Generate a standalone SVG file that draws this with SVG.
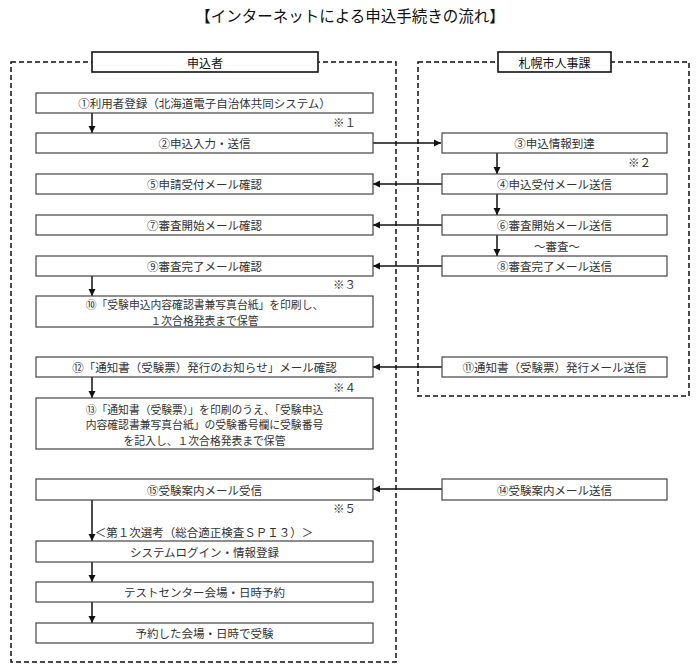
<svg xmlns="http://www.w3.org/2000/svg" width="700" height="672" viewBox="0 0 700 672">
<style>
text{font-family:"Noto Sans CJK JP","Noto Sans",sans-serif;fill:#333;dominant-baseline:central;text-anchor:middle}
.t{font-size:11.5px}
.m{font-size:10.8px}
.h{font-size:12px;fill:#111}
.title{font-size:15.5px;fill:#111}
.note{font-size:11.5px;text-anchor:start}
.box{fill:#fff;stroke:#444;stroke-width:1.2}
.hbox{fill:#fff;stroke:#111;stroke-width:1.6}
.dash{fill:none;stroke:#111;stroke-width:1.5;stroke-dasharray:5 3}
.ln{stroke:#111;stroke-width:1.5;fill:none}
</style>
<defs>
<marker id="ah" markerUnits="userSpaceOnUse" markerWidth="8" markerHeight="8" refX="7" refY="4" orient="auto">
<path d="M0,0.5 L7,4 L0,7.5 z" fill="#111"/>
</marker>
</defs>
<rect width="700" height="672" fill="#fff"/>
<text class="title" x="350" y="15">【インターネットによる申込手続きの流れ】</text>

<g id="lane-applicant">
<rect class="dash" x="11" y="62" width="385" height="600"/>
</g>
<g id="lane-sapporo">
<rect class="dash" x="418" y="62" width="271" height="334"/>
</g>

<g id="connectors">
<line class="ln" x1="92" y1="113" x2="92" y2="133" marker-end="url(#ah)"/>
<line class="ln" x1="373" y1="143" x2="441" y2="143" marker-end="url(#ah)"/>
<line class="ln" x1="497" y1="153" x2="497" y2="174" marker-end="url(#ah)"/>
<line class="ln" x1="442" y1="184" x2="373" y2="184" marker-end="url(#ah)"/>
<line class="ln" x1="497" y1="194" x2="497" y2="215" marker-end="url(#ah)"/>
<line class="ln" x1="442" y1="225" x2="373" y2="225" marker-end="url(#ah)"/>
<line class="ln" x1="497" y1="235" x2="497" y2="256" marker-end="url(#ah)"/>
<line class="ln" x1="442" y1="266" x2="373" y2="266" marker-end="url(#ah)"/>
<line class="ln" x1="92" y1="276" x2="92" y2="296" marker-end="url(#ah)"/>
<line class="ln" x1="442" y1="367" x2="373" y2="367" marker-end="url(#ah)"/>
<line class="ln" x1="92" y1="377" x2="92" y2="398" marker-end="url(#ah)"/>
<line class="ln" x1="442" y1="489" x2="373" y2="489" marker-end="url(#ah)"/>
<line class="ln" x1="92" y1="500" x2="92" y2="541" marker-end="url(#ah)"/>
<line class="ln" x1="92" y1="562" x2="92" y2="582" marker-end="url(#ah)"/>
<line class="ln" x1="92" y1="602" x2="92" y2="623" marker-end="url(#ah)"/>
</g>

<g id="header-applicant">
<rect class="hbox" x="92" y="52" width="226" height="20"/>
<text class="h" x="205" y="62">申込者</text>
</g>
<g id="header-sapporo">
<rect class="hbox" x="498" y="52" width="113" height="20"/>
<text class="h" x="554.5" y="62">札幌市人事課</text>
</g>

<g id="n1"><rect class="box" x="36" y="93" width="337" height="20"/><text class="t" x="204.5" y="103">①利用者登録（北海道電子自治体共同システム）</text></g>
<text class="note" x="333" y="122">※１</text>
<g id="n2"><rect class="box" x="36" y="133" width="337" height="20"/><text class="t" x="204.5" y="143">②申込入力・送信</text></g>
<g id="n3"><rect class="box" x="442" y="133" width="225" height="20"/><text class="t" x="554.5" y="143">③申込情報到達</text></g>
<text class="note" x="628" y="162">※２</text>
<g id="n4"><rect class="box" x="442" y="174" width="225" height="20"/><text class="t" x="554.5" y="184">④申込受付メール送信</text></g>
<g id="n5"><rect class="box" x="36" y="174" width="337" height="20"/><text class="t" x="204.5" y="184">⑤申請受付メール確認</text></g>
<g id="n6"><rect class="box" x="442" y="215" width="225" height="20"/><text class="t" x="554.5" y="225">⑥審査開始メール送信</text></g>
<g id="n7"><rect class="box" x="36" y="215" width="337" height="20"/><text class="t" x="204.5" y="225">⑦審査開始メール確認</text></g>
<text class="t" x="557" y="246">～審査～</text>
<g id="n8"><rect class="box" x="442" y="256" width="225" height="20"/><text class="t" x="554.5" y="266">⑧審査完了メール送信</text></g>
<g id="n9"><rect class="box" x="36" y="256" width="337" height="20"/><text class="t" x="204.5" y="266">⑨審査完了メール確認</text></g>
<text class="note" x="333" y="284">※３</text>
<g id="n10"><rect class="box" x="36" y="296" width="337" height="31"/><text class="m" x="204.5" y="304">⑩「受験申込内容確認書兼写真台紙」を印刷し、</text><text class="m" x="204.5" y="319.5">１次合格発表まで保管</text></g>
<g id="n11"><rect class="box" x="442" y="357" width="225" height="20"/><text class="t" x="554.5" y="367">⑪通知書（受験票）発行メール送信</text></g>
<g id="n12"><rect class="box" x="36" y="357" width="337" height="20"/><text class="t" x="204.5" y="367">⑫「通知書（受験票）発行のお知らせ」メール確認</text></g>
<text class="note" x="333" y="387">※４</text>
<g id="n13"><rect class="box" x="36" y="398" width="337" height="51"/><text class="m" x="204.5" y="408.5">⑬「通知書（受験票）」を印刷のうえ、「受験申込</text><text class="m" x="204.5" y="424">内容確認書兼写真台紙」の受験番号欄に受験番号</text><text class="m" x="204.5" y="439.5">を記入し、１次合格発表まで保管</text></g>
<g id="n14"><rect class="box" x="442" y="479" width="225" height="21"/><text class="t" x="554.5" y="489.5">⑭受験案内メール送信</text></g>
<g id="n15"><rect class="box" x="36" y="479" width="337" height="21"/><text class="t" x="204.5" y="489.5">⑮受験案内メール受信</text></g>
<text class="note" x="333" y="508">※５</text>
<text class="t" x="204" y="532">＜第１次選考（総合適正検査ＳＰＩ３）＞</text>
<g id="n16"><rect class="box" x="36" y="541" width="337" height="21"/><text class="t" x="204.5" y="551.5">システムログイン・情報登録</text></g>
<g id="n17"><rect class="box" x="36" y="582" width="337" height="20"/><text class="t" x="204.5" y="592">テストセンター会場・日時予約</text></g>
<g id="n18"><rect class="box" x="36" y="623" width="337" height="20"/><text class="t" x="204.5" y="633">予約した会場・日時で受験</text></g>
</svg>
